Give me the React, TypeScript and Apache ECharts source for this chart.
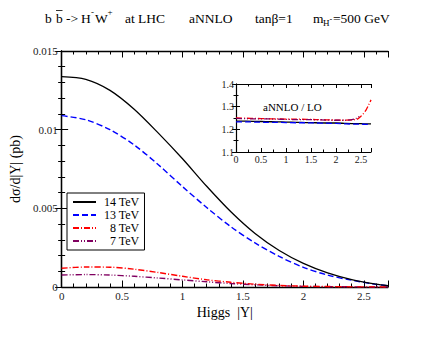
import React, { useEffect, useRef } from "react";
import * as echarts from "echarts";

const xs = [0, 0.2, 0.4, 0.6, 0.8, 1.0, 1.2, 1.4, 1.6, 1.8, 2.0, 2.2, 2.4, 2.6, 2.7];
const tev14 = [0.01337, 0.0132, 0.0125, 0.0113, 0.00978, 0.00815, 0.0064, 0.00478, 0.0034, 0.00232, 0.0015, 0.0009, 0.00047, 0.00018, 0.00008];
const tev13 = [0.01089, 0.01063, 0.01, 0.00903, 0.00777, 0.00638, 0.00505, 0.00383, 0.0028, 0.00194, 0.00125, 0.00076, 0.00043, 0.00017, 0.00008];
const tev8 = [0.00119, 0.00127, 0.00126, 0.00113, 0.00092, 0.00068, 0.00046, 0.0003, 0.00018, 0.0001, 0.00005, 0.00003, 0.00001, 0.000005, 0];
const tev7 = [0.00076, 0.00079, 0.00076, 0.00068, 0.00057, 0.00045, 0.00033, 0.00022, 0.00014, 0.00008, 0.00004, 0.00002, 0.00001, 0, 0];

const ratioXs = [0, 0.2, 0.4, 0.6, 0.8, 1.0, 1.2, 1.4, 1.6, 1.8, 2.0, 2.2, 2.4, 2.5, 2.6, 2.7];
const ratio14 = [1.236, 1.236, 1.235, 1.234, 1.233, 1.232, 1.231, 1.23, 1.229, 1.228, 1.228, 1.226, 1.225, 1.225, 1.224, 1.224];
const ratio13 = [1.233, 1.233, 1.232, 1.231, 1.231, 1.23, 1.229, 1.229, 1.228, 1.227, 1.226, 1.224, 1.223, 1.223, 1.222, 1.222];
const ratio8 = [1.25, 1.249, 1.248, 1.247, 1.246, 1.245, 1.245, 1.244, 1.243, 1.242, 1.241, 1.241, 1.243, 1.258, 1.285, 1.33];
const ratio7 = [1.248, 1.247, 1.246, 1.246, 1.245, 1.244, 1.243, 1.243, 1.242, 1.241, 1.24, 1.24, 1.248, 1.262, null, null];

const names = ["14 TeV", "13 TeV", "8 TeV", "7 TeV"];
const colors = ["#000000", "#0000ff", "#ff0000", "#800060"];
const dashes: any[] = ["solid", [6, 3], [6, 2, 1, 2], [6, 2, 1, 2, 1, 2]];

const xTickLabels = ["0", "0.5", "1", "1.5", "2", "2.5"];
const yTickLabels = ["0", "0.005", "0.01", "0.015"];
const insetYLabels = ["1.1", "1.2", "1.3", "1.4"];

const FONT = "Liberation Serif";

function pair(xv: number[], yv: (number | null)[]) {
  return xv.map((x, i) => [x, yv[i]]);
}

function halfLabel(v: number) {
  const k = v / 0.5;
  if (Math.abs(k - Math.round(k)) < 1e-6) {
    const s = String(+v.toFixed(1));
    return xTickLabels.includes(s) ? s : "";
  }
  return "";
}

export default function App() {
  const ref = useRef<HTMLDivElement>(null);
  useEffect(() => {
    if (!ref.current) return;
    const chart = echarts.init(ref.current, undefined, { renderer: "svg" });
    const axisLine = { show: true, lineStyle: { color: "#000", width: 1.3 } };
    const lbl = { fontFamily: FONT, fontSize: 11, color: "#222" };
    const baseX = (extra: any) => ({
      type: "value",
      min: 0,
      max: 2.7,
      splitLine: { show: false },
      axisLine,
      ...extra,
    });
    const txt = (x: number, y: number, text: string, size: number) => ({
      type: "text", x, y,
      style: { text, fontFamily: FONT, fontSize: size, fill: "#000", verticalAlign: "middle" },
    });
    const option: any = {
      animation: false,
      backgroundColor: "#fff",
      textStyle: { fontFamily: FONT },
      grid: [
        { left: 51, top: 51, right: 48, bottom: 50 },
        { left: 236, top: 84, width: 135, height: 68, backgroundColor: "#fff", show: true, borderWidth: 0 },
      ],
      legend: {
        orient: "vertical",
        left: 67,
        top: 193,
        padding: [3, 5, 3, 5],
        itemGap: 1,
        itemWidth: 23,
        itemHeight: 10,
        borderColor: "#000",
        borderWidth: 1,
        borderRadius: 0,
        backgroundColor: "#fff",
        itemStyle: { opacity: 0 },
        data: names,
        formatter: (n: string) => (n.length < 6 ? "\u2007" + n : n),
        textStyle: { fontFamily: FONT, fontSize: 12, color: "#000", padding: [0, 0, 0, 3], lineHeight: 10 },
      },
      xAxis: [
        baseX({
          gridIndex: 0, position: "bottom", interval: 0.1,
          axisTick: { inside: true, length: 3.5, lineStyle: { color: "#000" } },
          axisLabel: { ...lbl, margin: 3, formatter: halfLabel },
          name: "Higgs  |Y|", nameLocation: "middle", nameGap: 11,
          nameTextStyle: { fontFamily: FONT, fontSize: 14, color: "#000" },
        }),
        baseX({
          gridIndex: 0, position: "bottom", interval: 0.5, axisLine: { show: false },
          axisTick: { inside: true, length: 6.5, lineStyle: { color: "#000" } },
          axisLabel: { show: false },
        }),
        baseX({
          gridIndex: 0, position: "top", interval: 0.1,
          axisTick: { inside: true, length: 3.5, lineStyle: { color: "#000" } },
          axisLabel: { show: false },
        }),
        baseX({
          gridIndex: 0, position: "top", interval: 0.5, axisLine: { show: false },
          axisTick: { inside: true, length: 6.5, lineStyle: { color: "#000" } },
          axisLabel: { show: false },
        }),
        baseX({
          gridIndex: 1, position: "bottom", interval: 0.5,
          axisLine: { show: true, lineStyle: { color: "#000", width: 1.1 } },
          axisTick: { inside: true, length: 4, lineStyle: { color: "#000" } },
          minorTick: { show: true, splitNumber: 2, length: 2.5, lineStyle: { color: "#000" } },
          axisLabel: { fontFamily: FONT, fontSize: 10, color: "#222", margin: 2, formatter: halfLabel },
        }),
        baseX({
          gridIndex: 1, position: "top", interval: 0.5,
          axisLine: { show: true, lineStyle: { color: "#000", width: 1.1 } },
          axisTick: { inside: true, length: 4, lineStyle: { color: "#000" } },
          minorTick: { show: true, splitNumber: 2, length: 2.5, lineStyle: { color: "#000" } },
          axisLabel: { show: false },
        }),
      ],
      yAxis: [
        {
          type: "value", gridIndex: 0, position: "left", min: 0, max: 0.015, interval: 0.005,
          splitLine: { show: false }, axisLine,
          axisTick: { inside: true, length: 6.5, lineStyle: { color: "#000" } },
          minorTick: { show: true, splitNumber: 5, length: 3.5, lineStyle: { color: "#000" } },
          axisLabel: {
            ...lbl, margin: 4,
            formatter: (v: number) => yTickLabels[Math.round(v / 0.005)] ?? "",
          },
          name: "d\u03c3/d|Y| (pb)", nameLocation: "middle", nameGap: 26,
          nameTextStyle: { fontFamily: FONT, fontSize: 14, color: "#000" },
        },
        {
          type: "value", gridIndex: 0, position: "right", min: 0, max: 0.015, interval: 0.005,
          splitLine: { show: false }, axisLine,
          axisTick: { inside: true, length: 6.5, lineStyle: { color: "#000" } },
          minorTick: { show: true, splitNumber: 5, length: 3.5, lineStyle: { color: "#000" } },
          axisLabel: { show: false },
        },
        {
          type: "value", gridIndex: 1, position: "left", min: 1.1, max: 1.4, interval: 0.1,
          splitLine: { show: false },
          axisLine: { show: true, lineStyle: { color: "#000", width: 1.1 } },
          axisTick: { inside: true, length: 4, lineStyle: { color: "#000" } },
          minorTick: { show: true, splitNumber: 2, length: 2.5, lineStyle: { color: "#000" } },
          axisLabel: {
            fontFamily: FONT, fontSize: 10, color: "#222", margin: 2,
            formatter: (v: number) => insetYLabels[Math.round((v - 1.1) / 0.1)] ?? "",
          },
        },
        {
          type: "value", gridIndex: 1, position: "right", min: 1.1, max: 1.4, interval: 0.1,
          splitLine: { show: false },
          axisLine: { show: true, lineStyle: { color: "#000", width: 1.1 } },
          axisTick: { inside: true, length: 4, lineStyle: { color: "#000" } },
          minorTick: { show: true, splitNumber: 2, length: 2.5, lineStyle: { color: "#000" } },
          axisLabel: { show: false },
        },
      ],
      series: [
        ...[tev14, tev13, tev8, tev7].map((d, i) => ({
          type: "line", name: names[i], xAxisIndex: 0, yAxisIndex: 0,
          data: pair(xs, d), smooth: 0.3, symbol: "none",
          itemStyle: { color: colors[i] },
          lineStyle: { color: colors[i], width: i === 0 ? 1.3 : 1.4, type: dashes[i] },
          z: 5 - i,
        })),
        ...[ratio14, ratio13, ratio8, ratio7].map((d, i) => ({
          type: "line", name: "r" + names[i], xAxisIndex: 4, yAxisIndex: 2,
          data: pair(ratioXs, d), smooth: 0.3, symbol: "none", connectNulls: false,
          itemStyle: { color: colors[i] },
          lineStyle: { color: colors[i], width: 1.3, type: dashes[i] },
          z: 6 + i,
        })),
      ],
      graphic: [
        { type: "text", left: 263, top: 101, style: { text: "aNNLO / LO", fontFamily: FONT, fontSize: 11, fill: "#000" } },
        txt(45, 18, "b", 13.5),
        txt(56, 18, "b", 13.5),
        { type: "line", shape: { x1: 56, y1: 10.5, x2: 62.5, y2: 10.5 }, style: { stroke: "#000", lineWidth: 0.8 } },
        txt(66, 18, "->", 13.5),
        txt(81, 18, "H", 13.5),
        txt(91, 12, "-", 9),
        txt(95, 18, "W", 13.5),
        txt(107.5, 12, "+", 9),
        txt(125, 18, "at LHC", 13.5),
        txt(189, 18, "aNNLO", 13.5),
        txt(255, 18, "tan\u03b2=1", 13.5),
        txt(313, 18, "m", 13.5),
        txt(323, 23, "H", 9),
        txt(329.5, 19, "-", 8),
        txt(333, 18, "=500 GeV", 13.5),
      ],
    };
    chart.setOption(option);
    return () => chart.dispose();
  }, []);
  return <div ref={ref} style={{ width: 436, height: 337, position: "absolute", left: 0, top: 0 }} />;
}
